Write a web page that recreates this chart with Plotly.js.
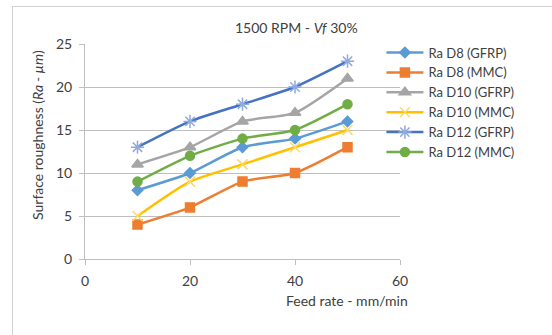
<!DOCTYPE html>
<html><head><meta charset="utf-8">
<script src="https://cdn.plot.ly/plotly-3.0.1.min.js"></script>
<style>
body{margin:0;padding:0;background:#fff;overflow:hidden;}
#frame{position:absolute;left:12px;top:6px;width:700px;height:500px;border:1px solid #d0d0d0;}
#chart{position:absolute;left:0;top:0;width:552px;height:335px;}
</style></head>
<body>
<div id="frame"></div>
<div id="chart"></div>
<script>
const feedRate = [10, 20, 30, 40, 50];
const seriesNames = ["Ra D8 (GFRP)", "Ra D8 (MMC)", "Ra D10 (GFRP)", "Ra D10 (MMC)", "Ra D12 (GFRP)", "Ra D12 (MMC)"];
const raD8GFRP = [8, 10, 13, 14, 16];
const raD8MMC = [4, 6, 9, 10, 13];
const raD10GFRP = [11, 13, 16, 17, 21];
const raD10MMC = [5, 9, 11, 13, 15];
const raD12GFRP = [13, 16, 18, 20, 23];
const raD12MMC = [9, 12, 14, 15, 18];
const xTicks = [0, 20, 40, 60];
const yTicks = [0, 5, 10, 15, 20, 25];

const values = [raD8GFRP, raD8MMC, raD10GFRP, raD10MMC, raD12GFRP, raD12MMC];
const lineColors = ["#5B9BD5", "#ED7D31", "#A5A5A5", "#FFC000", "#4472C4", "#70AD47"];
const markerColors = ["#5B9BD5", "#ED7D31", "#A5A5A5", "#FFD966", "#8FAADC", "#70AD47"];
const symbols = ["diamond", "square", "triangle-up", "x-thin-open", "asterisk-open", "circle"];
const sizes = [8, 9, 10, 10, 11, 9];

const traces = values.map((v, i) => ({
  x: feedRate, y: v, name: seriesNames[i], type: "scatter", mode: "lines+markers",
  line: {color: lineColors[i], width: 2.5, shape: "spline", smoothing: 0.6},
  marker: {symbol: symbols[i], size: sizes[i], color: markerColors[i],
           line: {color: markerColors[i], width: 1.5}}
}));

const FONT = "Lato, 'Open Sans', sans-serif";
const TC = "#404040";
const layout = {
  width: 552, height: 335,
  margin: {l: 85, r: 152, t: 44, b: 76},
  paper_bgcolor: "rgba(0,0,0,0)", plot_bgcolor: "rgba(0,0,0,0)",
  font: {family: FONT, size: 14, color: TC},
  showlegend: true,
  legend: {x: 0.941, xanchor: "left", y: 1.03, yanchor: "top", font: {size: 13, color: TC},
           tracegroupgap: 0, itemwidth: 37, bgcolor: "rgba(0,0,0,0)"},
  xaxis: {range: [0, 60], tickvals: xTicks, showgrid: false, zeroline: false,
          showline: true, linecolor: "#bfbfbf", linewidth: 1,
          ticks: "outside", ticklen: 5, tickcolor: "#bfbfbf", fixedrange: true,
          ticklabelstandoff: 4,
          tickfont: {size: 14, color: TC}},
  yaxis: {range: [0, 25], tickvals: yTicks, showgrid: true, gridcolor: "#bfbfbf", gridwidth: 1,
          zeroline: false, showline: true, linecolor: "#bfbfbf", linewidth: 1,
          ticks: "outside", ticklen: 5, tickcolor: "#bfbfbf", fixedrange: true,
          ticklabelstandoff: 4,
          tickfont: {size: 14, color: TC}},
  annotations: [
    {text: "1500 RPM - <i>Vf</i> 30%", xref: "paper", yref: "paper", x: 0.673, y: 1.0,
     xanchor: "center", yanchor: "bottom", yshift: 6, showarrow: false, font: {size: 14, color: TC}},
    {text: "Feed rate - mm/min", xref: "paper", yref: "paper", x: 0.833, y: 0,
     xanchor: "center", yanchor: "top", yshift: -31, showarrow: false, font: {size: 14, color: TC}},
    {text: "Surface roughness (<i>Ra - µm</i>)", xref: "paper", yref: "paper", x: 0, xshift: -47, y: 0.577,
     xanchor: "center", yanchor: "middle", textangle: -90, showarrow: false, font: {size: 14, color: TC}}
  ]
};
Plotly.newPlot("chart", traces, layout, {displayModeBar: false, staticPlot: true});
</script>
</body></html>
